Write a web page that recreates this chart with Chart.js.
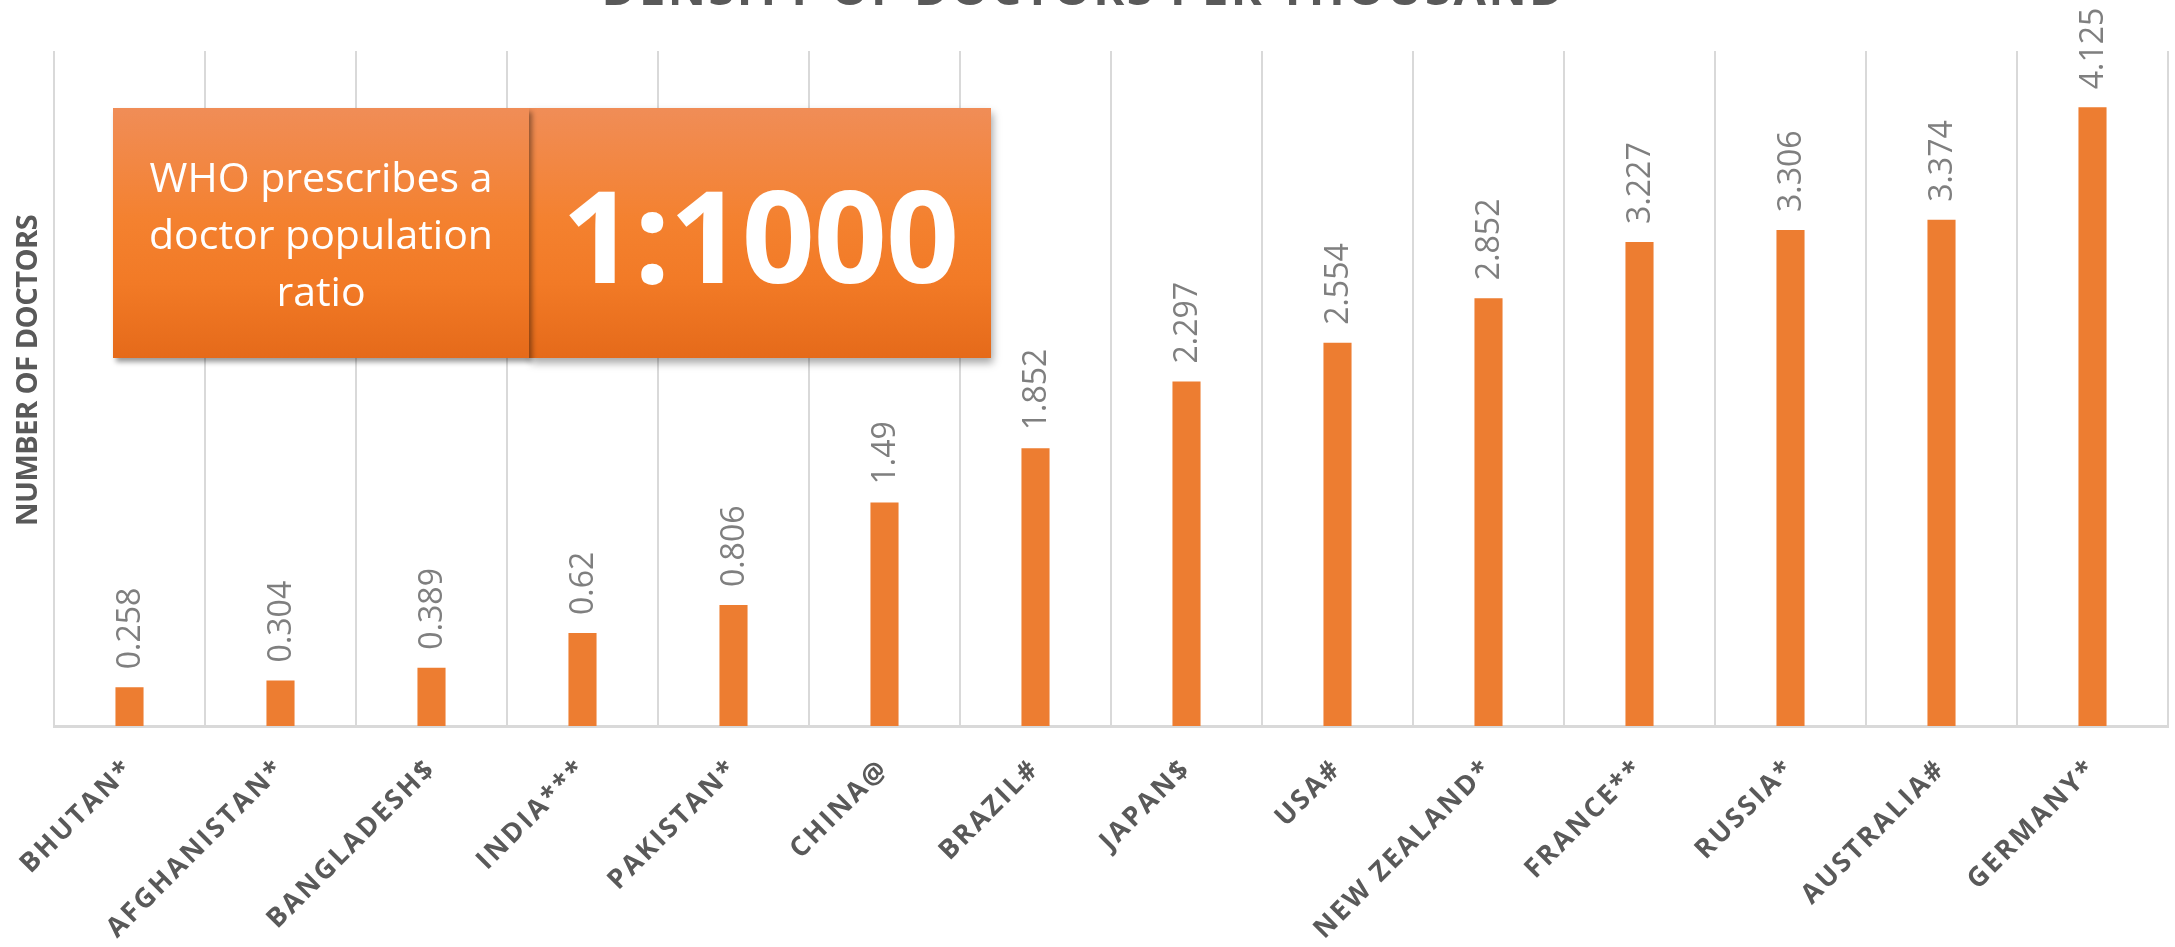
<!DOCTYPE html>
<html>
<head>
<meta charset="utf-8">
<script src="https://cdn.jsdelivr.net/npm/chart.js@4.4.1/dist/chart.umd.min.js"></script>
<style>
html, body { margin: 0; padding: 0; background: #fff; }
#wrap { position: relative; width: 2175px; height: 947px; overflow: hidden; }
#chartBox { position: absolute; left: 0; top: -40px; }
.panel {
    position: absolute; top: 108px; height: 250px;
    display: flex; align-items: center; justify-content: center;
    color: #fff; font-family: 'Open Sans', sans-serif; text-align: center;
    background: linear-gradient(to bottom, #f08d57 0%, #f4812f 45%, #f27a26 70%, #e56a1a 100%);
    box-shadow: 2px 5px 8px rgba(0,0,0,0.35);
}
#notePanel { left: 113px; width: 416px; z-index: 2; font-size: 41px; line-height: 57px; box-shadow: 3px 4px 5px rgba(0,0,0,0.4); }
#ratioPanel { left: 529px; width: 462px; z-index: 1; font-size: 128px; font-weight: 700; letter-spacing: -1px; }
</style>
</head>
<body>
<div id="wrap">
    <canvas id="chartBox" width="2175" height="987"></canvas>
    <div class="panel" id="notePanel">WHO prescribes a<br>doctor population<br>ratio</div>
    <div class="panel" id="ratioPanel">1:1000</div>
</div>
<script>
const countries = ['BHUTAN*', 'AFGHANISTAN*', 'BANGLADESH$', 'INDIA***', 'PAKISTAN*', 'CHINA@', 'BRAZIL#',
    'JAPAN$', 'USA#', 'NEW ZEALAND*', 'FRANCE**', 'RUSSIA*', 'AUSTRALIA#', 'GERMANY*']
const doctors = [0.258, 0.304, 0.389, 0.62, 0.806, 1.49, 1.852, 2.297, 2.554, 2.852, 3.227, 3.306, 3.374, 4.125]
const chartTitle = 'DENSITY OF DOCTORS PER THOUSAND'
const yTitle = 'NUMBER OF DOCTORS'

// spaced-out lettering for the title and category labels
const spacing = {
    id: 'spacing',
    beforeDraw(chart) {
        chart.ctx.letterSpacing = '2.5px'
    }
}

const valueLabels = {
    id: 'valueLabels',
    afterDatasetsDraw(chart) {
        const ctx = chart.ctx
        ctx.save()
        ctx.letterSpacing = '0px'
        ctx.font = '32px "Open Sans"'
        ctx.fillStyle = '#7f7f7f'
        ctx.textAlign = 'left'
        ctx.textBaseline = 'middle'
        chart.getDatasetMeta(0).data.forEach((bar, i) => {
            ctx.save()
            ctx.translate(bar.x + 1, bar.y - 18)
            ctx.rotate(-Math.PI / 2)
            ctx.fillText(String(doctors[i]), 0, 0)
            ctx.restore()
        })
        ctx.restore()
    }
}

const axisTitle = {
    id: 'axisTitle',
    afterDraw(chart) {
        const ctx = chart.ctx
        const area = chart.chartArea
        ctx.save()
        ctx.letterSpacing = '-0.5px'
        ctx.font = 'bold 29px "Open Sans"'
        ctx.fillStyle = '#595959'
        ctx.textAlign = 'center'
        ctx.textBaseline = 'middle'
        ctx.translate(29, (area.top + area.bottom) / 2 - 18)
        ctx.rotate(-Math.PI / 2)
        ctx.fillText(yTitle, 0, 0)
        ctx.restore()
    }
}

const context = document.querySelector('#chartBox').getContext('2d')
const chart = new Chart(context, {
    type: 'bar',
    data: {
        labels: countries,
        datasets: [{
            label: 'Doctors per thousand',
            backgroundColor: '#ed7d31',
            borderWidth: 0,
            categoryPercentage: 1,
            barPercentage: 0.186,
            data: doctors
        }]
    },
    options: {
        responsive: false,
        animation: false,
        layout: { padding: { top: 0, left: 0, right: 7, bottom: 0 } },
        plugins: {
            legend: { display: false },
            tooltip: { enabled: false },
            title: {
                display: true,
                text: chartTitle,
                color: '#595959',
                font: { family: 'Open Sans', size: 47, weight: 'bold', lineHeight: 1.35 },
                padding: { top: 0, bottom: 27.5 }
            }
        },
        scales: {
            x: {
                grid: { display: true, offset: true, color: '#d9d9d9', lineWidth: 2, drawTicks: false },
                border: { display: true, color: '#d9d9d9', width: 3 },
                ticks: {
                    autoSkip: false,
                    maxRotation: 45,
                    minRotation: 45,
                    padding: 27,
                    color: '#595959',
                    font: { family: 'Open Sans', size: 27, weight: 'bold' }
                },
                afterFit(scale) { scale.height = 221 }
            },
            y: {
                min: 0,
                max: 4.5,
                grid: { display: false },
                border: { display: false },
                ticks: { display: false },
                afterFit(scale) { scale.width = 54 }
            }
        }
    },
    plugins: [spacing, valueLabels, axisTitle]
})
</script>
</body>
</html>
